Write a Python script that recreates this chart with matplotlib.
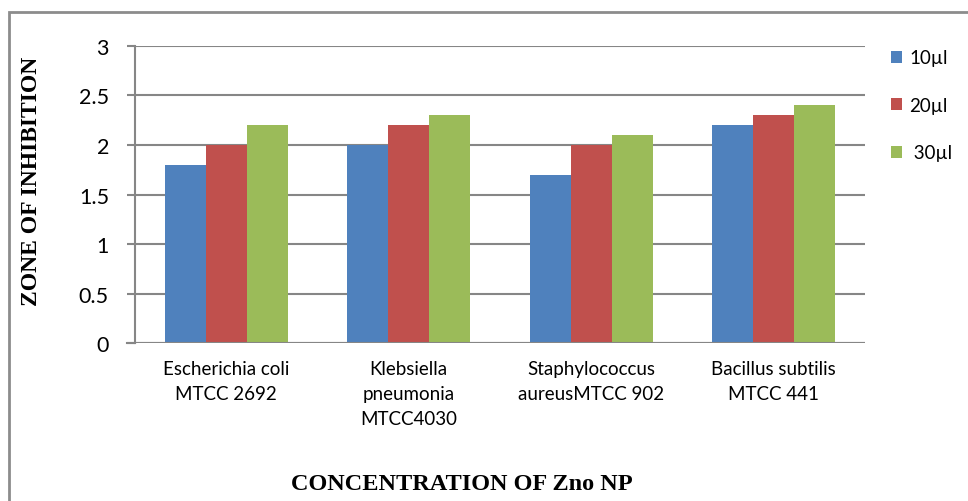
import matplotlib
matplotlib.use('Agg')
import matplotlib.pyplot as plt
import numpy as np
from matplotlib.patches import Rectangle

plt.rcParams['font.family'] = ['Lato', 'DejaVu Sans']

categories = ['Escherichia coli\nMTCC 2692', 'Klebsiella\npneumonia\nMTCC4030',
              'Staphylococcus\naureusMTCC 902', 'Bacillus subtilis\nMTCC 441']
series_names = ['10µl', '20µl', ' 30µl']
vals_10 = [1.8, 2.0, 1.7, 2.2]
vals_20 = [2.0, 2.2, 2.0, 2.3]
vals_30 = [2.2, 2.3, 2.1, 2.4]
colors = ['#4F81BD', '#C0504D', '#9BBB59']
yticks = [0, 0.5, 1, 1.5, 2, 2.5, 3]

fig = plt.figure(figsize=(9.68, 5.02), dpi=100)
ax = fig.add_axes([0.1395, 0.3147, 0.754, 0.5917])

grid_c = '#868686'
x = np.arange(len(categories))
width = 0.224
for i, (vals, name) in enumerate(zip([vals_10, vals_20, vals_30], series_names)):
    ax.bar(x + (i - 1) * width, vals, width, color=colors[i], label=name, zorder=3)

ax.set_xlim(-0.5, len(categories) - 0.5)
ax.set_ylim(0, 3)
ax.set_yticks(yticks)
ax.set_yticklabels([f'{t:g}' for t in yticks], fontsize=15.5)
ax.yaxis.grid(True, color=grid_c, linewidth=1.5, zorder=0)
ax.tick_params(axis='y', length=5.8, width=1.5, color=grid_c, pad=13)
ax.set_xticks(x)
ax.set_xticklabels(categories, fontsize=13.5, linespacing=1.6)
ax.tick_params(axis='x', length=0, pad=12)
for s in ['top', 'right', 'bottom']:
    ax.spines[s].set_visible(False)
ax.spines['left'].set_color(grid_c)
ax.spines['left'].set_linewidth(1.5)
ax.axhline(0, color=grid_c, linewidth=1.5, zorder=4)
ax.plot([-0.544, -0.5], [0, 0], color=grid_c, linewidth=1.5, clip_on=False)

leg = ax.legend(loc='upper left', bbox_to_anchor=(1.012, 1.045), frameon=False,
                fontsize=13.5, handlelength=0.6, handleheight=0.6,
                handletextpad=0.4, labelspacing=1.62)

fig.text(32 / 968, 1 - 181 / 502, 'ZONE OF INHIBITION', rotation=90, ha='center', va='center',
         fontsize=17, fontweight='bold', family='Liberation Serif')
fig.text(462 / 968, 1 - 485 / 502, 'CONCENTRATION OF Zno NP', ha='center', va='center',
         fontsize=17.5, fontweight='bold', family='Liberation Serif')

fig.patches.append(Rectangle((9 / 968, -0.05), 1.1, 1 - 13 / 502 + 0.05, transform=fig.transFigure,
                             fill=False, edgecolor='#8c8c8c', linewidth=2))

fig.savefig('out.png', dpi=100)
